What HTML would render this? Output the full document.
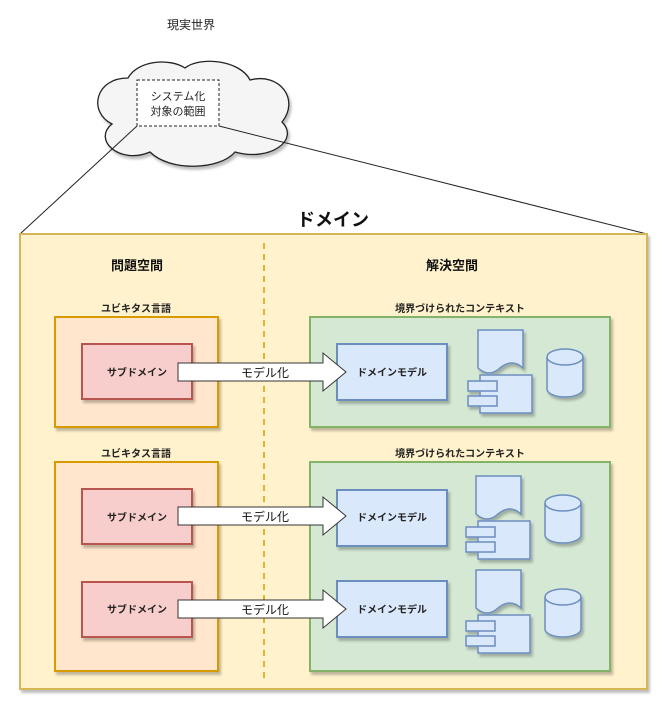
<!DOCTYPE html>
<html><head><meta charset="utf-8"><style>
html,body{margin:0;padding:0;background:#fff}
svg{display:block}
text{font-family:"Liberation Sans","Noto Sans CJK JP",sans-serif}
</style></head><body>
<svg width="671" height="715" viewBox="0 0 671 715" xmlns="http://www.w3.org/2000/svg">
<defs>
<filter id="sh" x="-10%" y="-10%" width="130%" height="130%"><feDropShadow dx="2" dy="3" stdDeviation="1.2" flood-color="#000" flood-opacity="0.25"/></filter>
<g id="doc"><path d="M0,0 H45 V38 Q34,28 22,38 Q11,48 0,38 Z" fill="#dae8fc" stroke="#6c8ebf" stroke-width="1.5"/></g>
<g id="comp"><rect x="12" y="0" width="52" height="38" fill="#dae8fc" stroke="#6c8ebf" stroke-width="1.5"/><rect x="0" y="6" width="29" height="10" fill="#dae8fc" stroke="#6c8ebf" stroke-width="1.5"/><rect x="0" y="21" width="29" height="10" fill="#dae8fc" stroke="#6c8ebf" stroke-width="1.5"/></g>
<g id="cyl"><path d="M0,8 A18,8 0 0 1 36,8 V40 A18,8 0 0 1 0,40 Z" fill="#dae8fc" stroke="#6c8ebf" stroke-width="1.5"/><path d="M0,8 A18,8 0 0 0 36,8" fill="none" stroke="#6c8ebf" stroke-width="1.5"/></g>
<g id="arrow"><path d="M0,0 H145 V-10 L168,9 L145,28 V18 H0 Z" fill="#fff" stroke="#333" stroke-width="1"/><text x="87" y="14" font-size="12" text-anchor="middle" fill="#111">モデル化</text></g>
</defs>

<text x="191" y="29" font-size="12" text-anchor="middle" fill="#222">現実世界</text>
<path d="M128,78 C95,78 88,112 112,124 C92,140 120,165 150,152 C170,172 220,170 235,152 C270,162 300,140 282,122 C300,100 280,72 250,80 C240,60 200,56 185,68 C170,58 138,60 128,78 Z" fill="#f5f5f5" stroke="#222" stroke-width="1.3" filter="url(#sh)"/>
<rect x="137" y="80" width="82" height="46" fill="#fff" stroke="#222" stroke-dasharray="3,2"/>
<text x="178" y="100" font-size="11" text-anchor="middle" fill="#222">システム化</text>
<text x="178" y="115" font-size="11" text-anchor="middle" fill="#222">対象の範囲</text>
<line x1="137" y1="126" x2="20" y2="234" stroke="#222"/>
<line x1="219" y1="126" x2="647" y2="234" stroke="#222"/>

<rect x="20" y="234" width="627" height="455" fill="#fff2cc" stroke="#d6b656" stroke-width="2" filter="url(#sh)"/>
<text x="333" y="226" font-size="18" font-weight="bold" text-anchor="middle" fill="#111">ドメイン</text>
<line x1="264" y1="243" x2="264" y2="683" stroke="#d79b00" stroke-width="1.5" stroke-dasharray="6,5"/>
<text x="137" y="270" font-size="13" font-weight="bold" text-anchor="middle" fill="#111">問題空間</text>
<text x="452" y="270" font-size="13" font-weight="bold" text-anchor="middle" fill="#111">解決空間</text>

<text x="136" y="312" font-size="10" font-weight="bold" text-anchor="middle" fill="#222">ユビキタス言語</text>
<text x="136" y="457" font-size="10" font-weight="bold" text-anchor="middle" fill="#222">ユビキタス言語</text>
<text x="460" y="312" font-size="10" font-weight="bold" text-anchor="middle" fill="#222">境界づけられたコンテキスト</text>
<text x="460" y="457" font-size="10" font-weight="bold" text-anchor="middle" fill="#222">境界づけられたコンテキスト</text>

<rect x="55" y="317" width="163" height="110" fill="#ffe6cc" stroke="#d79b00" stroke-width="2" filter="url(#sh)"/>
<rect x="55" y="462" width="163" height="209" fill="#ffe6cc" stroke="#d79b00" stroke-width="2" filter="url(#sh)"/>
<rect x="310" y="317" width="300" height="110" fill="#d5e8d4" stroke="#82b366" stroke-width="2" filter="url(#sh)"/>
<rect x="310" y="462" width="300" height="209" fill="#d5e8d4" stroke="#82b366" stroke-width="2" filter="url(#sh)"/>

<g font-size="10" font-weight="bold" text-anchor="middle" fill="#222">
<rect x="82" y="344" width="110" height="55" fill="#f8cecc" stroke="#b85450" stroke-width="2" filter="url(#sh)"/>
<text x="137" y="376">サブドメイン</text>
<rect x="82" y="489" width="110" height="55" fill="#f8cecc" stroke="#b85450" stroke-width="2" filter="url(#sh)"/>
<text x="137" y="521">サブドメイン</text>
<rect x="82" y="582" width="110" height="55" fill="#f8cecc" stroke="#b85450" stroke-width="2" filter="url(#sh)"/>
<text x="137" y="613">サブドメイン</text>

<rect x="337" y="344" width="110" height="56" fill="#dae8fc" stroke="#6c8ebf" stroke-width="2" filter="url(#sh)"/>
<text x="392" y="376">ドメインモデル</text>
<rect x="337" y="490" width="110" height="56" fill="#dae8fc" stroke="#6c8ebf" stroke-width="2" filter="url(#sh)"/>
<text x="392" y="521">ドメインモデル</text>
<rect x="337" y="581" width="110" height="56" fill="#dae8fc" stroke="#6c8ebf" stroke-width="2" filter="url(#sh)"/>
<text x="392" y="613">ドメインモデル</text>
</g>

<use href="#arrow" x="178" y="363"/>
<use href="#arrow" x="178" y="507"/>
<use href="#arrow" x="178" y="600"/>

<g filter="url(#sh)">
<use href="#doc" x="478" y="330"/><use href="#comp" x="468" y="375"/><use href="#cyl" x="547" y="349"/>
<use href="#doc" x="476" y="476"/><use href="#comp" x="466" y="521"/><use href="#cyl" x="545" y="495"/>
<use href="#doc" x="476" y="570"/><use href="#comp" x="466" y="615"/><use href="#cyl" x="545" y="589"/>
</g>
</svg>
</body></html>
